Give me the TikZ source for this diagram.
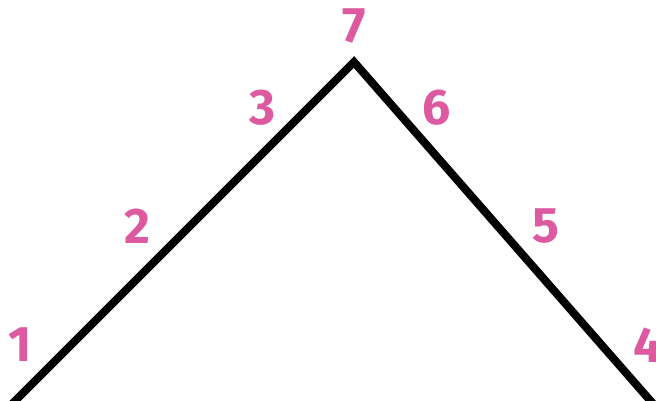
\documentclass[tikz,border=0pt]{standalone}
\usepackage{fontspec}
\setmainfont{Fira Sans}
\definecolor{numpink}{RGB}{222,90,160}
\tikzset{
  num/.style={text=numpink,font=\fontsize{50}{50}\selectfont\bfseries,inner sep=0pt,anchor=center},
  roof/.style={line width=8pt,black,line join=miter}
}
\begin{document}
\begin{tikzpicture}[x=1pt,y=-1pt]
\useasboundingbox (0,0) rectangle (656,400);
\clip (0,0) rectangle (656,400);
\coordinate (L) at (10,406);
\coordinate (A) at (354,62);
\coordinate (R) at (655,406);
\draw[roof] (L) -- (A) -- (R);
\node[num] (n1) at (20,345) {1};
\node[num] (n2) at (137,226) {2};
\node[num] (n3) at (262,108) {3};
\node[num] (n7) at (354,26) {7};
\node[num] (n6) at (437,108) {6};
\node[num] (n5) at (546,226) {5};
\node[num] (n4) at (648,345) {4};
\end{tikzpicture}
\end{document}
